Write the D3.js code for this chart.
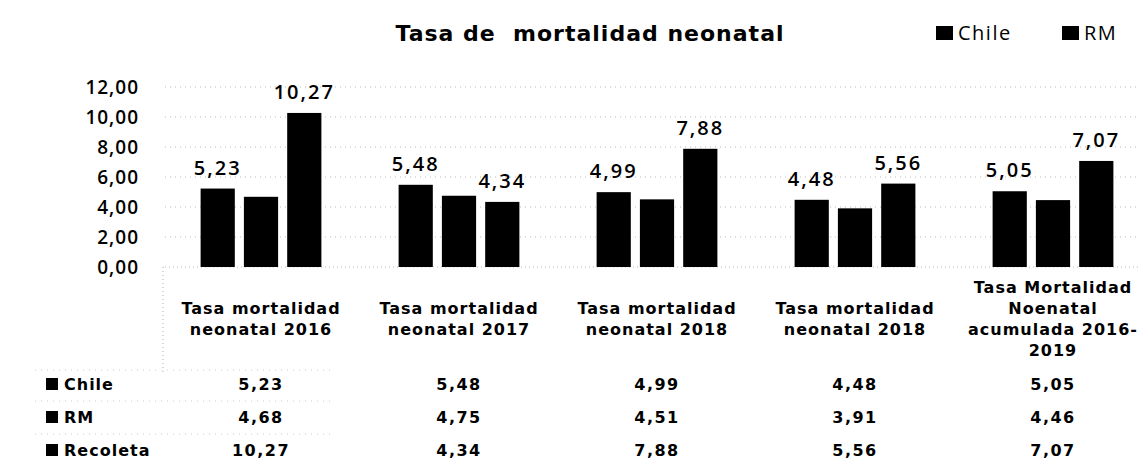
<!DOCTYPE html>
<html>
<head>
<meta charset="utf-8">
<script src="https://cdn.jsdelivr.net/npm/d3@7"></script>
<style>
  body { margin: 0; background: #fff; }
  svg { display: block; }
  .num { font-family: "Open Sans", sans-serif; }
  .bold { font-family: "DejaVu Sans", Verdana, sans-serif; font-weight: bold; }
</style>
</head>
<body>
<div id="chart"></div>
<script>
// data
var categories = [
  ["Tasa mortalidad", "neonatal 2016"],
  ["Tasa mortalidad", "neonatal 2017"],
  ["Tasa mortalidad", "neonatal 2018"],
  ["Tasa mortalidad", "neonatal 2018"],
  ["Tasa Mortalidad", "Noenatal", "acumulada 2016-", "2019"]
];
var series = ["Chile", "RM", "Recoleta"];
var chile = [5.23, 5.48, 4.99, 4.48, 5.05];
var rm = [4.68, 4.75, 4.51, 3.91, 4.46];
var recoleta = [10.27, 4.34, 7.88, 5.56, 7.07];
var yTicks = [0, 2, 4, 6, 8, 10, 12];
var labelledSeries = ["Chile", "Recoleta"]; // RM bars carry no data label

var values = { "Chile": chile, "RM": rm, "Recoleta": recoleta };
var fmt = function(v) { return d3.format(".2f")(v).replace(".", ","); };

var width = 1142, height = 463;

var svg = d3.select("#chart").append("svg")
  .attr("width", width)
  .attr("height", height);

// scales
var y = d3.scaleLinear().domain([0, 12]).range([267, 87]);
var x0 = d3.scaleBand()
  .domain(d3.range(categories.length))
  .range([162, 1152])
  .paddingInner(0.39)
  .paddingOuter(0.195);
var x1 = d3.scaleBand()
  .domain(series)
  .range([0, x0.bandwidth()])
  .paddingInner(0.21);
var rowY = d3.scalePoint().domain(series).range([384, 450]);

// gridlines (faint dotted, like the scan)
svg.append("g")
  .selectAll("line")
  .data(yTicks.slice(1))
  .enter().append("line")
    .attr("x1", 165).attr("x2", 1140)
    .attr("y1", function(d) { return y(d); })
    .attr("y2", function(d) { return y(d); })
    .attr("stroke", "#bbb")
    .attr("stroke-width", 1)
    .attr("stroke-dasharray", "1,4");

// y axis
var yAxis = svg.append("g")
  .attr("transform", "translate(139,0)")
  .call(d3.axisLeft(y).tickValues(yTicks).tickFormat(fmt).tickSize(0).tickPadding(0));
yAxis.select(".domain").remove();
yAxis.selectAll("text")
  .attr("class", "num")
  .style("font-size", "19px")
  .style("font-weight", "600")
  .style("letter-spacing", "1px")
  .attr("fill", "#000");

// baseline
svg.append("line")
  .attr("x1", 165).attr("x2", 1140)
  .attr("y1", y(0)).attr("y2", y(0))
  .attr("stroke", "#bbb")
  .attr("stroke-dasharray", "1,3");

// table dotted frame lines
svg.append("line")
  .attr("x1", 163).attr("x2", 163)
  .attr("y1", y(0)).attr("y2", 375)
  .attr("stroke", "#aaa").attr("stroke-dasharray", "1,3");
svg.append("g")
  .selectAll("line")
  .data([370, 401, 434])
  .enter().append("line")
    .attr("x1", 35).attr("x2", 330)
    .attr("y1", function(d) { return d; })
    .attr("y2", function(d) { return d; })
    .attr("stroke", "#ccc")
    .attr("stroke-dasharray", "1,5");

// bars
var groups = svg.append("g")
  .selectAll("g")
  .data(categories)
  .enter().append("g")
    .attr("transform", function(d, i) { return "translate(" + x0(i) + ",0)"; });

groups.selectAll("rect")
  .data(function(d, i) { return series.map(function(s) { return { s: s, v: values[s][i] }; }); })
  .enter().append("rect")
    .attr("x", function(d) { return x1(d.s); })
    .attr("y", function(d) { return y(d.v); })
    .attr("width", x1.bandwidth())
    .attr("height", function(d) { return y(0) - y(d.v); })
    .attr("fill", "#000");

// data labels
groups.selectAll("text.lbl")
  .data(function(d, i) {
    return labelledSeries.map(function(s) { return { s: s, v: values[s][i] }; });
  })
  .enter().append("text")
    .attr("class", "lbl num")
    .attr("x", function(d) { return x1(d.s) + x1.bandwidth() / 2; })
    .attr("y", function(d) { return y(d.v) - 14; })
    .attr("text-anchor", "middle")
    .style("font-size", "20px")
    .style("font-weight", "600")
    .style("letter-spacing", "2px")
    .text(function(d) { return fmt(d.v); });

// category labels
var lineH = 21;
groups.each(function(lines) {
  var g = d3.select(this);
  var top = 319 - (lines.length - 1) * lineH / 2;
  lines.forEach(function(t, k) {
    g.append("text")
      .attr("class", "bold")
      .attr("x", x0.bandwidth() / 2)
      .attr("y", top + k * lineH)
      .attr("dy", "0.35em")
      .attr("text-anchor", "middle")
      .style("font-size", "16px")
      .style("letter-spacing", "1px")
      .text(t);
  });
});

// table rows
series.forEach(function(s) {
  svg.append("rect")
    .attr("x", 46).attr("y", rowY(s) - 6)
    .attr("width", 12).attr("height", 12)
    .attr("fill", "#000");
  svg.append("text")
    .attr("class", "bold")
    .attr("x", 64).attr("y", rowY(s))
    .attr("dy", "0.35em")
    .style("font-size", "16px")
    .style("letter-spacing", "1px")
    .text(s);
  values[s].forEach(function(v, i) {
    svg.append("text")
      .attr("class", "bold")
      .attr("x", x0(i) + x0.bandwidth() / 2)
      .attr("y", rowY(s))
      .attr("dy", "0.35em")
      .attr("text-anchor", "middle")
      .style("font-size", "16px")
      .style("letter-spacing", "1.5px")
      .text(fmt(v));
  });
});

// title
svg.append("text")
  .attr("class", "bold")
  .attr("x", 590).attr("y", 33)
  .attr("dy", "0.35em")
  .attr("text-anchor", "middle")
  .style("font-size", "22px")
  .style("letter-spacing", "1px")
  .style("white-space", "pre")
  .attr("xml:space", "preserve")
  .text("Tasa de  mortalidad neonatal");

// legend (Chile, RM)
var legend = svg.append("g")
  .selectAll("g")
  .data(["Chile", "RM"])
  .enter().append("g")
    .attr("transform", function(d, i) { return "translate(" + (936 + i * 126) + ",33)"; });
legend.append("rect")
  .attr("x", 0).attr("y", -7)
  .attr("width", 17).attr("height", 14)
  .attr("fill", "#000");
legend.append("text")
  .attr("class", "num")
  .attr("x", 22).attr("dy", "0.35em")
  .style("font-size", "20px")
  .style("letter-spacing", "1.5px")
  .text(function(d) { return d; });
</script>
</body>
</html>
